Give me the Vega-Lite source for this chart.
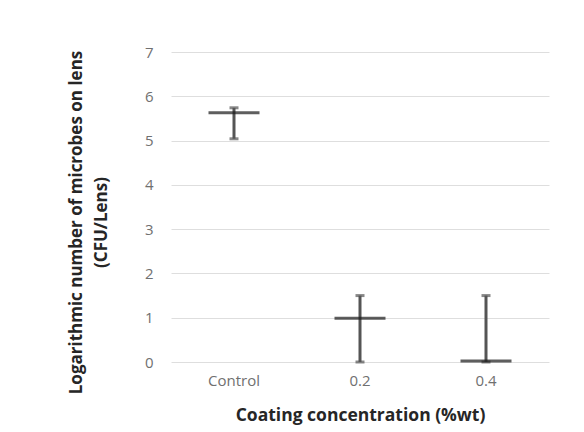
{
  "$schema": "https://vega.github.io/schema/vega-lite/v6.json",
  "width": 378,
  "height": 310,
  "autosize": {"type": "none"},
  "padding": {"left": 171, "top": 52, "right": 35, "bottom": 70},
  "background": "white",
  "config": {
    "view": {"stroke": null},
    "font": "Open Sans"
  },
  "data": {
    "values": [
      {"group": "Control", "mean": 5.63, "low": 5.04, "high": 5.74},
      {"group": "0.2", "mean": 0.99, "low": 0.0, "high": 1.5},
      {"group": "0.4", "mean": 0.02, "low": 0.0, "high": 1.5}
    ]
  },
  "encoding": {
    "x": {
      "field": "group",
      "type": "nominal",
      "sort": ["Control", "0.2", "0.4"],
      "scale": {"paddingInner": 0, "paddingOuter": 0},
      "axis": {
        "title": "Coating concentration (%wt)",
        "titleFont": "Open Sans",
        "titleFontSize": 17.5,
        "titleFontWeight": "bold",
        "titleColor": "#262626",
        "titlePadding": 18,
        "labelAngle": 0,
        "labelFontSize": 15,
        "labelColor": "#707070",
        "labelPadding": 11,
        "domain": false,
        "ticks": false
      }
    }
  },
  "layer": [
    {
      "mark": {"type": "rule", "color": "#555555", "strokeWidth": 3},
      "encoding": {
        "y": {
          "field": "low",
          "type": "quantitative",
          "scale": {"domain": [0, 7], "nice": false},
          "axis": {
            "title": ["Logarithmic number of microbes on  lens", "(CFU/Lens)"],
            "titleFont": "Open Sans",
            "titleFontSize": 17,
            "titleFontWeight": "bold",
            "titleColor": "#262626",
            "titleLineHeight": 25,
            "titlePadding": 34,
            "titleY": 170,
            "values": [0, 1, 2, 3, 4, 5, 6, 7],
            "labelFontSize": 15,
            "labelColor": "#707070",
            "labelPadding": 18,
            "domain": false,
            "ticks": false,
            "gridColor": "#dedede",
            "gridWidth": 1
          }
        },
        "y2": {"field": "high"}
      }
    },
    {
      "mark": {"type": "tick", "color": "#555555", "size": 9, "thickness": 3},
      "encoding": {"y": {"field": "low", "type": "quantitative"}}
    },
    {
      "mark": {"type": "tick", "color": "#555555", "size": 9, "thickness": 3},
      "encoding": {"y": {"field": "high", "type": "quantitative"}}
    },
    {
      "mark": {"type": "tick", "color": "#1a1a1a", "size": 51, "thickness": 3},
      "encoding": {"y": {"field": "mean", "type": "quantitative"}}
    }
  ]
}
